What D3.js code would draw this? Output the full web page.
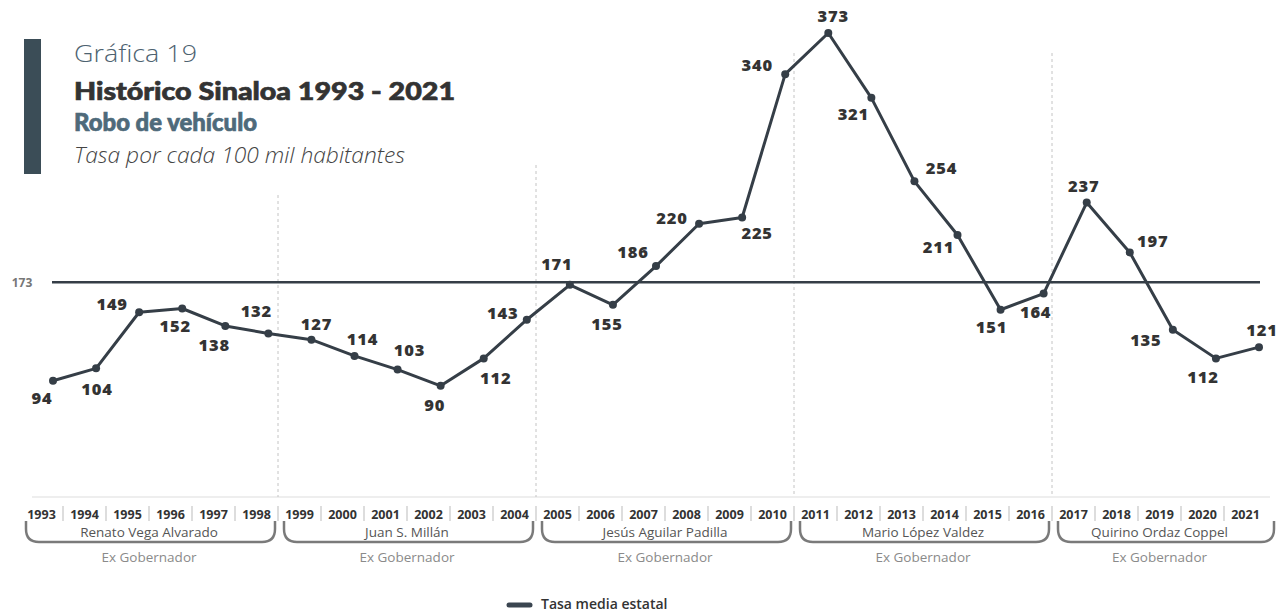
<!DOCTYPE html>
<html>
<head>
<meta charset="utf-8">
<script src="https://cdn.jsdelivr.net/npm/d3@7/dist/d3.min.js"></script>
<style>
  html, body { margin: 0; padding: 0; background: #fff; }
  svg { display: block; font-family: "Open Sans", "Noto Sans", sans-serif; }
</style>
</head>
<body>
<svg id="chart" width="1283" height="613"></svg>
<script>
// ---- Data ----
const years = [1993,1994,1995,1996,1997,1998,1999,2000,2001,2002,2003,2004,2005,2006,2007,2008,2009,2010,2011,2012,2013,2014,2015,2016,2017,2018,2019,2020,2021];
const rates = [94,104,149,152,138,132,127,114,103,90,112,143,171,155,186,220,225,340,373,321,254,211,151,164,237,197,135,112,121];
const stateMean = 173;
const governors = ["Renato Vega Alvarado","Juan S. Millán","Jesús Aguilar Padilla","Mario López Valdez","Quirino Ordaz Coppel"];
const govStart = [1993,1999,2005,2011,2017];
const govEnd = [1998,2004,2010,2016,2021];
const govRole = "Ex Gobernador";
const titleLines = ["Gráfica 19","Histórico Sinaloa 1993 - 2021","Robo de vehículo","Tasa por cada 100 mil habitantes"];
const legendLabel = "Tasa media estatal";

// label placement (offset of label centre from point), style config
const labelDx = [-11,1,-27,-7,-11,-12,5,8,12,-6,12,-24,-13,-6,-23,-27,15,-28,5,-18,27,-19,-9,-8,-3,23,-27,-13,3];
const labelDy = [17,21,-8,18,19,-22,-16,-17,-20,19,20,-7,-21,19,-14,-6,16,-9,-17,16,-13,12,17,19,-16,-11,10,19,-17];

const svg = d3.select("#chart");
const dark = "#353e47";

const x = d3.scalePoint().domain(years).range([53, 1259]);
const xb = d3.scaleBand().domain(years).range([20, 1267]).padding(0);
const y = d3.scaleLinear().domain([0, 373]).range([498, 33]);

// ---- Title block ----
svg.append("rect").attr("x", 24).attr("y", 39).attr("width", 17).attr("height", 135).attr("fill", "#3b4d57");
svg.append("text").attr("x", 74).attr("y", 62).attr("font-size", 24).attr("font-weight", 300)
  .attr("fill", "#4d6270").attr("textLength", 123).attr("lengthAdjust", "spacingAndGlyphs").text(titleLines[0]);
svg.append("text").attr("x", 74).attr("y", 100).attr("font-family", "Lato, 'Open Sans', sans-serif")
  .attr("font-size", 25).attr("font-weight", 900)
  .attr("fill", "#333333").attr("stroke", "#333333").attr("stroke-width", 0.7)
  .attr("textLength", 381).attr("lengthAdjust", "spacingAndGlyphs").text(titleLines[1]);
svg.append("text").attr("x", 74).attr("y", 131).attr("font-family", "Lato, 'Open Sans', sans-serif")
  .attr("font-size", 25).attr("font-weight", 900)
  .attr("fill", "#4e6a7a").attr("stroke", "#4e6a7a").attr("stroke-width", 0.7)
  .attr("textLength", 183).attr("lengthAdjust", "spacingAndGlyphs").text(titleLines[2]);
svg.append("text").attr("x", 74).attr("y", 163).attr("font-size", 22).attr("font-weight", 300).attr("font-style", "italic")
  .attr("fill", "#444444").attr("textLength", 331).attr("lengthAdjust", "spacingAndGlyphs").text(titleLines[3]);

// ---- Baseline axis ----
svg.append("line").attr("x1", 32).attr("x2", 1270).attr("y1", y(0) - 1).attr("y2", y(0) - 1)
  .attr("stroke", "#dddddd").attr("stroke-width", 1);

// ---- Governor separators (dashed) ----
const sepTop = [195, 165, 53, 53];
govStart.slice(1).forEach((yr, i) => {
  svg.append("line").attr("x1", xb(yr)).attr("x2", xb(yr)).attr("y1", sepTop[i]).attr("y2", y(0) - 1)
    .attr("stroke", "#c4c4c4").attr("stroke-width", 1).attr("stroke-dasharray", "3,3");
});

// ---- Mean line ----
svg.append("line").attr("x1", 52).attr("x2", 1260).attr("y1", y(stateMean)).attr("y2", y(stateMean))
  .attr("stroke", dark).attr("stroke-width", 2.5);
svg.append("text").attr("x", 22).attr("y", y(stateMean)).attr("dy", "0.35em").attr("text-anchor", "middle")
  .attr("font-size", 12).attr("font-weight", 700).attr("fill", "#777").text(stateMean);

// ---- Data line ----
const line = d3.line().x((d, i) => x(years[i])).y(d => y(d));
svg.append("path").datum(rates).attr("d", line).attr("fill", "none")
  .attr("stroke", dark).attr("stroke-width", 3).attr("stroke-linejoin", "round");
svg.selectAll("circle.pt").data(rates).join("circle").attr("class", "pt")
  .attr("cx", (d, i) => x(years[i])).attr("cy", d => y(d)).attr("r", 4).attr("fill", dark);
svg.selectAll("text.val").data(rates).join("text").attr("class", "val")
  .attr("x", (d, i) => x(years[i]) + labelDx[i]).attr("y", (d, i) => y(d) + labelDy[i])
  .attr("dy", "0.36em").attr("text-anchor", "middle")
  .attr("font-size", 16.5).attr("font-weight", 800).attr("letter-spacing", 0.8).attr("fill", "#333333")
  .text(d => d);

// ---- Year labels ----
svg.selectAll("text.yr").data(years).join("text").attr("class", "yr")
  .attr("x", d => xb(d) + xb.bandwidth() / 2).attr("y", 519).attr("text-anchor", "middle")
  .attr("font-size", 12.5).attr("font-weight", 700).attr("fill", "#333333").text(d => d);
svg.selectAll("line.yrsep").data(years.slice(1)).join("line").attr("class", "yrsep")
  .attr("x1", d => xb(d)).attr("x2", d => xb(d)).attr("y1", 506).attr("y2", 521)
  .attr("stroke", "#bbbbbb").attr("stroke-width", 1);

// ---- Governor brackets ----
governors.forEach((g, i) => {
  const x0 = xb(govStart[i]) + 6;
  let x1 = xb(govEnd[i]) + xb.bandwidth() - 3;
  if (i === governors.length - 1) x1 += 10;
  const top = 521, bot = 542, r = 13;
  const p = d3.path();
  p.moveTo(x0, top);
  p.lineTo(x0, bot - r);
  p.quadraticCurveTo(x0, bot, x0 + r, bot);
  p.lineTo(x1 - r, bot);
  p.quadraticCurveTo(x1, bot, x1, bot - r);
  p.lineTo(x1, top);
  svg.append("path").attr("d", p.toString()).attr("fill", "none").attr("stroke", "#7a7a7a").attr("stroke-width", 2.5);
  const cx = (xb(govStart[i]) + xb(govEnd[i]) + xb.bandwidth()) / 2;
  svg.append("text").attr("x", cx).attr("y", 537).attr("text-anchor", "middle")
    .attr("font-size", 13.5).attr("fill", "#555555").text(g);
  svg.append("text").attr("x", cx).attr("y", 562).attr("text-anchor", "middle")
    .attr("font-size", 13.5).attr("fill", "#8a8a8a").text(govRole);
});

// ---- Legend ----
svg.append("line").attr("x1", 509).attr("x2", 530).attr("y1", 605).attr("y2", 605)
  .attr("stroke", "#3a4550").attr("stroke-width", 5).attr("stroke-linecap", "round");
svg.append("text").attr("x", 541).attr("y", 609).attr("font-size", 14).attr("font-weight", 600)
  .attr("fill", "#333333").text(legendLabel);
</script>
</body>
</html>
